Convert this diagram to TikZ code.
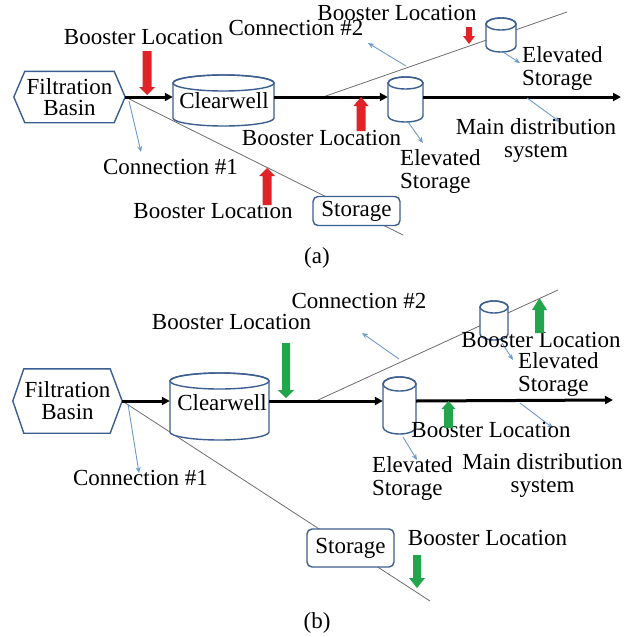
\documentclass[tikz,border=0pt]{standalone}
\usepackage{fontspec}
\setmainfont{Liberation Serif}
\newfontfamily\diagfont{Liberation Serif}
\usetikzlibrary{arrows.meta,calc}
\definecolor{shapeblue}{RGB}{60,95,145}
\definecolor{arrowblue}{RGB}{110,155,205}
\definecolor{boostred}{RGB}{225,35,40}
\definecolor{boostgreen}{RGB}{35,165,75}
\definecolor{pipegray}{RGB}{110,110,110}
\tikzset{
 shapeline/.style={draw=shapeblue, line width=1.4pt},
 pipe/.style={draw=pipegray, line width=0.8pt},
 mainline/.style={draw=black, line width=3pt, -{Triangle[length=8pt,width=8pt]}},
 pointer/.style={draw=arrowblue, line width=0.9pt, -{Stealth[length=6pt,width=5pt]}},
 lbl/.style={inner sep=0pt, text height=0.7em, text depth=0.2em},
 lbl2/.style={inner sep=0pt, align=left},
 lblc/.style={inner sep=0pt, align=center},
 storebox/.style={shapeline, fill=white, rounded corners=5pt, inner sep=0pt},
}
\newcommand\mkcyl[6]{%
  \pgfmathsetmacro\cyTop{#3+#6}%
  \pgfmathsetmacro\cyBot{#4-#6}%
  \pgfmathsetmacro\cyL{#2-#5}%
  \pgfmathsetmacro\cyR{#2+#5}%
  \pgfmathsetmacro\cyMid{(#3+#4)/2}%
  \filldraw[shapeline,fill=white] (\cyL,\cyTop) -- (\cyL,\cyBot)
    arc[start angle=180,end angle=360,x radius=#5pt,y radius=#6pt]
    -- (\cyR,\cyTop)
    arc[start angle=0,end angle=180,x radius=#5pt,y radius=#6pt] -- cycle;
  \draw[shapeline] (#2,\cyTop) ellipse[x radius=#5pt,y radius=#6pt];
  \node[inner sep=0pt,minimum width={2*#5pt},minimum height={(#4-#3)*1pt}] (#1) at (#2,\cyMid) {};
}
\newcommand\boost[7]{%
  \fill[#1] ({#2-#6},#3) -- ({#2-#6},#4) -- ({#2-#7},#4) -- (#2,#5)
    -- ({#2+#7},#4) -- ({#2+#6},#4) -- ({#2+#6},#3) -- cycle;}
\begin{document}
\begin{tikzpicture}[x=1pt,y=-1pt,font=\diagfont\fontsize{23}{23}\selectfont]
\fill[white] (0,0) rectangle (635,637);
\useasboundingbox (0,0) rectangle (635,637);

% ================= Panel (a) =================
\node[lblc,minimum width=111pt,minimum height=51pt,font=\diagfont\fontsize{23}{21}\selectfont] (fbA) at (69.5,97) {Filtration\\Basin};
\draw[shapeline] (fbA.west) -- ($(fbA.north west)+(11,0)$) -- ($(fbA.north east)+(-11,0)$)
  -- (fbA.east) -- ($(fbA.south east)+(-11,0)$) -- ($(fbA.south west)+(11,0)$) -- cycle;

\coordinate (c2A0) at (323,97);
\coordinate (c2A1) at (567,12);
\coordinate (c1A1) at (403,235);
\coordinate (endA) at (621,97);
\draw[pipe] (c2A0) -- (c2A1);
\draw[pipe] (fbA.east) -- (c1A1);

\mkcyl{cwA}{223.5}{75}{126}{50.5}{8}
\node[lbl] (cwAtext) at (224,106) {Clearwell};
\mkcyl{esA1}{405.5}{77}{122}{17.5}{6}
\mkcyl{esA2}{501}{18}{52}{15}{6}
\node[storebox,minimum width=87pt,minimum height=29pt] (stA) at (356.5,211) {Storage};

\draw[mainline] (fbA.east) -- (fbA.east -| cwA.west);
\draw[mainline] (fbA.east -| cwA.east) -- (fbA.east -| esA1.west);
\draw[mainline] (fbA.east -| esA1.east) -- (endA);

\coordinate (pa1s) at (129,101); \coordinate (pa1e) at (141,152);
\coordinate (pa2s) at (406,66);  \coordinate (pa2e) at (368,43);
\coordinate (pa3s) at (503,52);  \coordinate (pa3e) at (520,63);
\coordinate (pa4s) at (408,122); \coordinate (pa4e) at (423,143);
\coordinate (pa5s) at (527,98);  \coordinate (pa5e) at (560,122);
\draw[pointer] (pa1s) -- (pa1e);
\draw[pointer] (pa2s) -- (pa2e);
\draw[pointer] (pa3s) -- (pa3e);
\draw[pointer] (pa4s) -- (pa4e);
\draw[pointer] (pa5s) -- (pa5e);

\node[lbl] (blA1) at (143.5,42) {Booster Location};
\node[lbl] (cn2A) at (296,33) {Connection \#2};
\node[lbl] (blA2) at (397,18) {Booster Location};
\node[lbl2,anchor=west] (evA2) at (522,68.5) {Elevated\\Storage};
\node[lbl] (blA3) at (321.5,143) {Booster Location};
\node[lbl2,anchor=west] (evA1) at (400,171.5) {Elevated\\Storage};
\node[lblc] (mdA) at (536,140.5) {Main distribution\\system};
\node[lbl] (cn1A) at (170.5,172) {Connection \#1};
\node[lbl] (blA4) at (213,216) {Booster Location};
\node[lbl] (capA) at (317,261) {(a)};

\boost{boostred}{147}{51}{87}{95}{4.5}{8}
\boost{boostred}{267}{205}{176}{168}{4.5}{8}
\boost{boostred}{361}{131}{106}{97}{4.5}{7.5}
\boost{boostred}{469}{27}{36}{44}{3}{6}

% ================= Panel (b) =================
\node[lblc,minimum width=109pt,minimum height=64pt,font=\diagfont\fontsize{23}{22}\selectfont] (fbB) at (67.5,401) {Filtration\\Basin};
\draw[shapeline] (fbB.west) -- ($(fbB.north west)+(11,0)$) -- ($(fbB.north east)+(-12,0)$)
  -- (fbB.east) -- ($(fbB.south east)+(-12,0)$) -- ($(fbB.south west)+(11,0)$) -- cycle;

\coordinate (c2B0) at (318,400);
\coordinate (c2B1) at (558,290);
\coordinate (c1B1) at (430,601);
\coordinate (endB) at (613,400);
\draw[pipe] (c2B0) -- (c2B1);
\draw[pipe] (fbB.east) -- (c1B1);

\mkcyl{cwB}{219.5}{373}{440}{49.5}{8}
\node[lbl] (cwBtext) at (222,408) {Clearwell};
\mkcyl{esB1}{399.5}{377}{434}{16.5}{7}
\mkcyl{esB2}{494}{301}{340}{14}{6}
\node[storebox,minimum width=87pt,minimum height=38pt] (stB) at (350.5,548) {Storage};

\draw[mainline] (fbB.east) -- (fbB.east -| cwB.west);
\draw[mainline] (fbB.east -| cwB.east) -- (fbB.east -| esB1.west);
\draw[mainline] (fbB.east -| esB1.east) -- (endB);

\coordinate (pb1s) at (128,404); \coordinate (pb1e) at (139,473);
\coordinate (pb2s) at (399,359); \coordinate (pb2e) at (362,333);
\coordinate (pb3s) at (502,343); \coordinate (pb3e) at (513,360);
\coordinate (pb4s) at (403,437); \coordinate (pb4e) at (417,460);
\coordinate (pb5s) at (520,403); \coordinate (pb5e) at (553,428);
\draw[pointer] (pb1s) -- (pb1e);
\draw[pointer] (pb2s) -- (pb2e);
\draw[pointer] (pb3s) -- (pb3e);
\draw[pointer] (pb4s) -- (pb4e);
\draw[pointer] (pb5s) -- (pb5e);

\node[lbl] (blB1) at (231.5,327) {Booster Location};
\node[lbl] (cn2B) at (359,306) {Connection \#2};
\node[lbl] (blB2) at (541,345) {Booster Location};
\node[lbl2,anchor=west] (evB2) at (518,374) {Elevated\\Storage};
\node[lbl] (blB3) at (491,435) {Booster Location};
\node[lbl2,anchor=west] (evB1) at (372,478.5) {Elevated\\Storage};
\node[lblc] (mdB) at (542.5,475) {Main distribution\\system};
\node[lbl] (cn1B) at (140.5,483) {Connection \#1};
\node[lbl] (blB4) at (487.5,543) {Booster Location};
\node[lbl] (capB) at (317,626) {(b)};

\boost{boostgreen}{286}{343}{390}{398}{4}{8}
\boost{boostgreen}{539.5}{333}{310}{298}{4.5}{7.5}
\boost{boostgreen}{448.5}{428}{409}{401}{4.3}{7}
\boost{boostgreen}{417}{555}{578}{588}{4}{8}
\end{tikzpicture}
\end{document}
